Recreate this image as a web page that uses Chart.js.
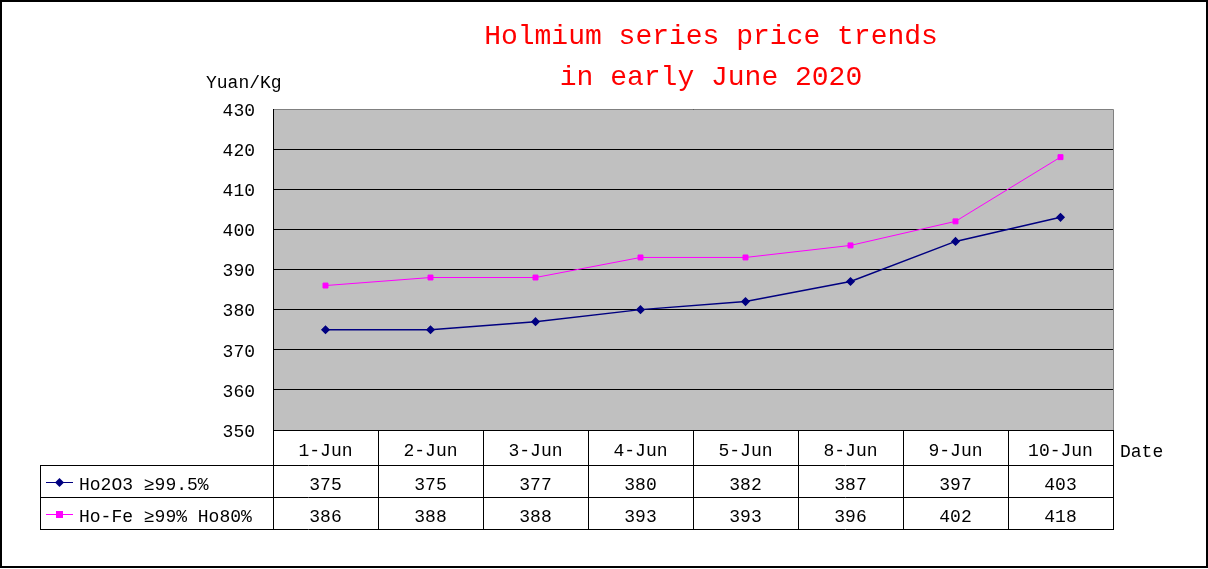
<!DOCTYPE html>
<html>
<head>
<meta charset="utf-8">
<script src="https://cdn.jsdelivr.net/npm/chart.js@4.4.1/dist/chart.umd.min.js"></script>
<style>
  body { margin: 0; background: #fff; }
  canvas { display: block; }
</style>
</head>
<body>
<canvas id="priceChart" width="1208" height="569"></canvas>
<script>
// data
const dates = ['1-Jun', '2-Jun', '3-Jun', '4-Jun', '5-Jun', '8-Jun', '9-Jun', '10-Jun'];
const ho2o3 = [375, 375, 377, 380, 382, 387, 397, 403];
const hoFe = [386, 388, 388, 393, 393, 396, 402, 418];
const seriesNames = ['Ho2O3 ≥99.5%', 'Ho-Fe ≥99% Ho80%'];
const titleLines = ['Holmium series price trends', 'in early June 2020'];
const yTicks = [350, 430, 10];

const FONT = '"Liberation Mono", "DejaVu Sans Mono", monospace';

// plot background + borders + data table under the chart
const tablePlugin = {
    id: 'tablePlugin',
    beforeDraw: (chart) => {
        const { ctx, chartArea: { left, top, right, bottom } } = chart;
        ctx.save();
        ctx.fillStyle = '#fff';
        ctx.fillRect(0, 0, chart.width, chart.height);
        ctx.fillStyle = '#C0C0C0';
        ctx.fillRect(left, top, right - left, bottom - top);
        ctx.restore();
    },
    afterDraw: (chart) => {
        const { ctx, chartArea: { left, top, right, bottom } } = chart;
        const x = chart.scales.x;
        const colW = (right - left) / dates.length;
        const rowTop = bottom + 35;
        const rowH = 32;
        const tableLeft = 40;

        ctx.save();
        ctx.lineWidth = 1;

        // plot frame
        ctx.strokeStyle = '#808080';
        ctx.beginPath();
        ctx.moveTo(left + 0.5, top + 0.5);
        ctx.lineTo(right + 0.5, top + 0.5);
        ctx.lineTo(right + 0.5, bottom);
        ctx.stroke();
        ctx.strokeStyle = '#000';
        ctx.beginPath();
        ctx.moveTo(left + 0.5, top);
        ctx.lineTo(left + 0.5, bottom);
        ctx.stroke();

        // table lines
        ctx.beginPath();
        ctx.moveTo(left, bottom + 0.5);
        ctx.lineTo(right + 1, bottom + 0.5);
        for (let r = 0; r <= 2; r++) {
            const y = rowTop + r * rowH + 0.5;
            ctx.moveTo(tableLeft, y);
            ctx.lineTo(right + 1, y);
        }
        for (let c = 0; c <= dates.length; c++) {
            const xx = Math.round(left + c * colW) + 0.5;
            ctx.moveTo(xx, bottom);
            ctx.lineTo(xx, rowTop + 2 * rowH + 1);
        }
        ctx.moveTo(tableLeft + 0.5, rowTop);
        ctx.lineTo(tableLeft + 0.5, rowTop + 2 * rowH + 1);
        ctx.stroke();

        // values + legend
        ctx.font = '18px ' + FONT;
        ctx.textBaseline = 'middle';
        const rows = [ho2o3, hoFe];
        chart.data.datasets.forEach((ds, r) => {
            const cy = rowTop + r * rowH + rowH / 2 + 4;
            ctx.fillStyle = '#000';
            ctx.textAlign = 'center';
            rows[r].forEach((v, i) => {
                ctx.fillText(String(v), x.getPixelForValue(i), cy);
            });
            // legend sample
            ctx.strokeStyle = ds.borderColor;
            ctx.beginPath();
            ctx.moveTo(46, cy - 2.5);
            ctx.lineTo(73, cy - 2.5);
            ctx.stroke();
            ctx.fillStyle = ds.borderColor;
            if (r === 0) {
                ctx.beginPath();
                ctx.moveTo(59.5, cy - 7);
                ctx.lineTo(64, cy - 2.5);
                ctx.lineTo(59.5, cy + 2);
                ctx.lineTo(55, cy - 2.5);
                ctx.closePath();
                ctx.fill();
            } else {
                ctx.fillRect(56, cy - 6, 7, 7);
            }
            ctx.fillStyle = '#000';
            ctx.textAlign = 'left';
            ctx.fillText(ds.label, 79, cy);
        });

        // axis titles
        ctx.textAlign = 'left';
        ctx.fillText('Yuan/Kg', 206, 83);
        ctx.fillText('Date', 1120, 452);

        // chart title
        ctx.fillStyle = '#FF0000';
        ctx.font = '28px ' + FONT;
        ctx.textAlign = 'center';
        ctx.fillText(titleLines[0], 711, 37);
        ctx.fillText(titleLines[1], 711, 78);

        // outer border
        ctx.strokeStyle = '#000';
        ctx.lineWidth = 2;
        ctx.strokeRect(1, 1, chart.width - 2, chart.height - 3);
        ctx.restore();
    }
};

const ctxPrice = document.getElementById('priceChart').getContext('2d');

new Chart(ctxPrice, {
    type: 'line',
    data: {
        labels: dates,
        datasets: [
            {
                label: seriesNames[0],
                data: ho2o3,
                borderColor: '#000080',
                backgroundColor: '#000080',
                borderWidth: 1.5,
                pointStyle: 'rectRot',
                pointRadius: 3.5,
                tension: 0
            },
            {
                label: seriesNames[1],
                data: hoFe,
                borderColor: '#FF00FF',
                backgroundColor: '#FF00FF',
                borderWidth: 1,
                pointStyle: 'rect',
                pointRadius: 3.5,
                tension: 0
            }
        ]
    },
    options: {
        responsive: false,
        devicePixelRatio: 1,
        animation: false,
        layout: { padding: { left: 0, top: 109, right: 95, bottom: 104 } },
        plugins: {
            legend: { display: false },
            tooltip: { enabled: false }
        },
        scales: {
            y: {
                min: yTicks[0],
                max: yTicks[1],
                afterFit: (scale) => { scale.width = 273; },
                ticks: {
                    stepSize: yTicks[2],
                    color: '#000',
                    font: { family: FONT, size: 18 },
                    padding: 18,
                    labelOffset: 2
                },
                grid: { color: '#000', drawTicks: false },
                border: { display: false }
            },
            x: {
                offset: true,
                afterFit: (scale) => { scale.height = 35; },
                ticks: {
                    color: '#000',
                    font: { family: FONT, size: 18 },
                    padding: 10,
                    maxRotation: 0
                },
                grid: { display: false, drawTicks: false },
                border: { display: false }
            }
        }
    },
    plugins: [tablePlugin]
});
</script>
</body>
</html>
